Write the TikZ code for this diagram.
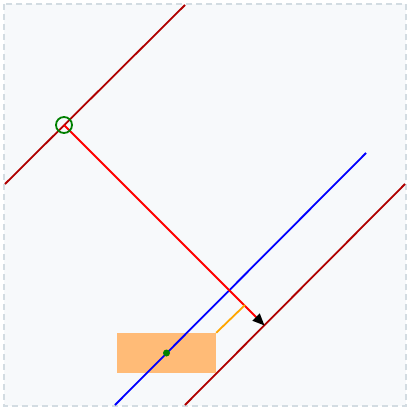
\documentclass[tikz,border=0pt]{standalone}
\usetikzlibrary{arrows.meta}
\definecolor{bgpanel}{HTML}{F7F9FB}
\definecolor{framegray}{HTML}{D3DCE2}
\definecolor{darkline}{HTML}{B00000}
\definecolor{boxfill}{HTML}{FFBB77}
\definecolor{linkorange}{HTML}{FFA500}
\begin{document}
\begin{tikzpicture}[x=1pt,y=-1pt]
\tikzset{wall/.style={darkline,line width=1.8pt},
  ray/.style={red,line width=1.8pt},
  axis/.style={blue,line width=1.8pt}}
\useasboundingbox (0,0) rectangle (410,412);
\draw [framegray,fill=bgpanel,line width=1.2pt,dash pattern=on 6pt off 4pt] (4,4) rectangle (406,406);
% walls
\coordinate (w1a) at (5,184);
\coordinate (w1b) at (185,5);
\coordinate (w2a) at (185,405);
\coordinate (w2b) at (405,184);
\draw [wall] (w1a) -- (w1b);
\draw [wall] (w2a) -- (w2b);
% box and centre line
\node (box) [fill=boxfill,minimum width=99pt,minimum height=40pt,inner sep=0pt] at (166.5,353) {};
\coordinate (ba) at (115,405);
\coordinate (bb) at (366,153);
\draw [axis] (ba) -- (bb);
\fill [green!50!black] (box.center) circle (3.5);
% ray from source
\coordinate (src) at (64,125);
\coordinate (hit) at (264.5,325.5);
\coordinate (foot) at (245,305);
\draw [ray,-{Triangle[black,length=12pt,width=10pt]}] (src) -- (hit);
\draw [linkorange,line width=1.8pt] (box.north east) -- (foot);
\draw [green!50!black,line width=1.8pt] (src) circle (8);
\end{tikzpicture}
\end{document}
